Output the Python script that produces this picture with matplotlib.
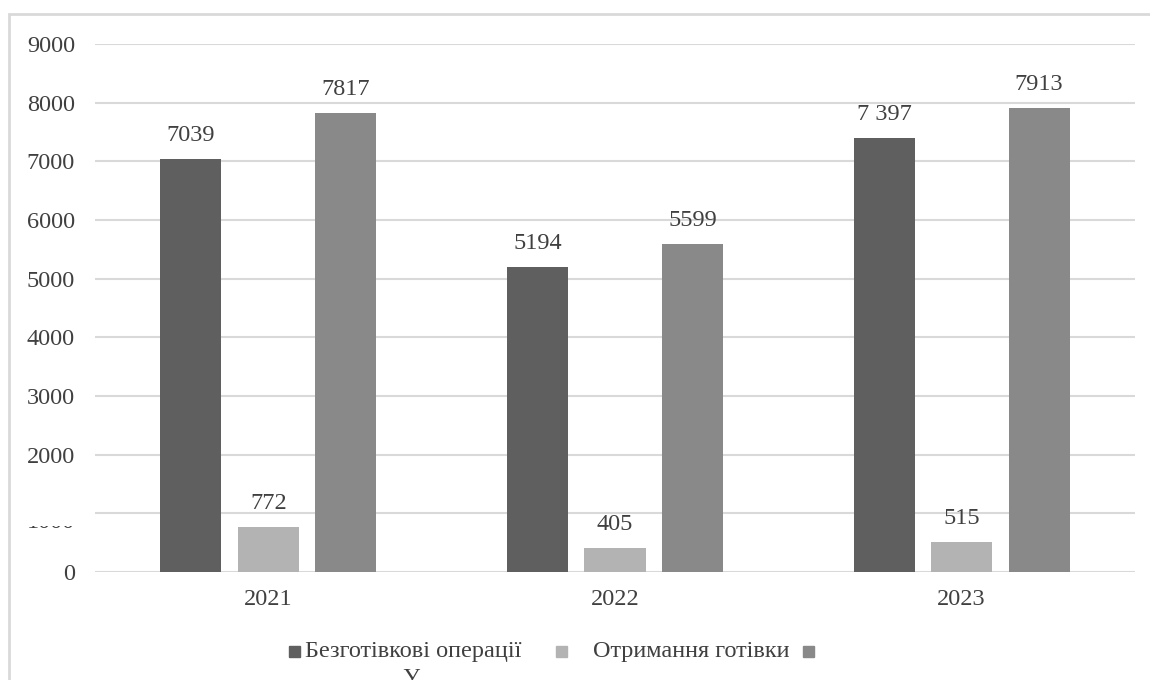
import matplotlib.pyplot as plt
from matplotlib.patches import Rectangle

plt.rcParams['font.family'] = ['Liberation Serif', 'DejaVu Serif']

years = ['2021', '2022', '2023']
cashless = [7039, 5194, 7397]
cash = [772, 405, 515]
total = [7817, 5599, 7913]
cashless_labels = ['7039', '5194', '7 397']
cash_labels = ['772', '405', '515']
total_labels = ['7817', '5599', '7913']
y_ticks = [0, 1000, 2000, 3000, 4000, 5000, 6000, 7000, 8000, 9000]
legend_names = ['Безготівкові операції', 'Отримання готівки', '']
colors = ['#5f5f5f', '#b3b3b3', '#898989']

W, H = 1150, 680
fig = plt.figure(figsize=(W / 100, H / 100), dpi=100)
txt = '#404040'
fs = 17.5


def fx(px):
    return px / W


def fy(py):
    return 1 - py / H


# outer chart frame
fig.patches.append(Rectangle((fx(9), fy(700)), fx(1160), fy(14) - fy(700),
                             transform=fig.transFigure, fill=False,
                             edgecolor='#d9d9d9', linewidth=2))

ax = fig.add_axes([fx(95), fy(572), fx(1040), fy(44) - fy(572)])

x = list(range(len(years)))
step = 0.2235
width = 0.176
series = [(cashless, cashless_labels), (cash, cash_labels), (total, total_labels)]
for i, (vals, labs) in enumerate(series):
    pos = [xi + (i - 1) * step for xi in x]
    bars = ax.bar(pos, vals, width=width, color=colors[i], zorder=3)
    for b, lab in zip(bars, labs):
        ax.annotate(lab, (b.get_x() + b.get_width() / 2, b.get_height()),
                    xytext=(0, 18), textcoords='offset pixels',
                    ha='center', va='baseline', fontsize=fs, color=txt)

ax.set_xlim(-0.5, 2.5)
ax.set_ylim(0, 9000)
ax.set_yticks(y_ticks)
ax.set_yticklabels(['' if t == 1000 else str(t) for t in y_ticks])
ax.set_xticks(x)
ax.set_xticklabels(years)
ax.grid(axis='y', color='#d9d9d9', linewidth=1.5, zorder=0)
for s in ax.spines.values():
    s.set_visible(False)
ax.tick_params(length=0, labelsize=fs, labelcolor=txt)
ax.tick_params(axis='y', pad=14.4)
ax.tick_params(axis='x', pad=12)

# the "1000" label sits slightly low and is mostly hidden
fig.text(fx(75), fy(528), '1000', ha='right', va='baseline', fontsize=fs, color=txt)
fig.patches.append(Rectangle((fx(18), fy(526)), fx(70), fy(495) - fy(526),
                             transform=fig.transFigure, facecolor='white',
                             edgecolor='none', zorder=10))

# legend
leg_y = 651
sq = 11
for sx, tx, col, name in [(289, 305, colors[0], legend_names[0]),
                          (556, 593, colors[1], legend_names[1]),
                          (803, None, colors[2], legend_names[2])]:
    fig.patches.append(Rectangle((fx(sx), fy(leg_y + sq / 2)), fx(sq),
                                 fy(leg_y - sq / 2) - fy(leg_y + sq / 2),
                                 transform=fig.transFigure, color=col))
    if tx is not None:
        fig.text(fx(tx), fy(leg_y), name, fontsize=fs, color=txt, va='center')
fig.text(fx(411), fy(668), 'У', fontsize=fs, color=txt, va='top', ha='center')

fig.savefig('out.png', dpi=100)
